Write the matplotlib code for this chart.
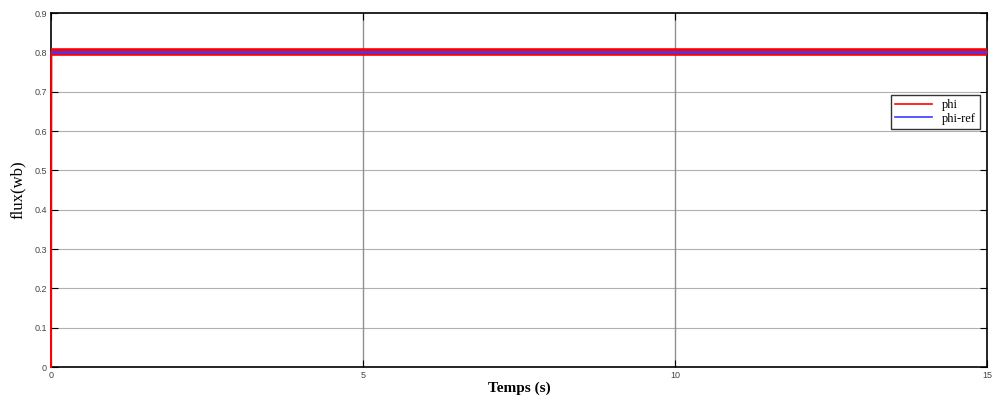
import matplotlib
matplotlib.use('Agg')
import matplotlib.pyplot as plt

# donnees
temps = [0, 0.005, 15]
phi = [0, 0.8, 0.8]
phi_ref = [0.8, 0.8, 0.8]
yticks = [0, 0.1, 0.2, 0.3, 0.4, 0.5, 0.6, 0.7, 0.8, 0.9]
xticks = [0, 5, 10, 15]

fig = plt.figure(figsize=(9.93, 3.99), dpi=100)
ax = fig.add_axes([0.0514, 0.0802, 0.9426, 0.8872])

ax.plot(temps, phi, color='red', linewidth=1.5, label='phi', zorder=3, clip_on=False)
# regime etabli : petite oscillation autour de 0.8, d'ou le trait epais
ax.plot(temps[1:], phi[1:], color='red', linewidth=5.5, solid_capstyle='butt', zorder=3)
ax.plot(temps, phi_ref, color='#3b3bff', linewidth=1.8, label='phi-ref', zorder=3)

ax.set_xlim(0, 15)
ax.set_ylim(0, 0.9)
ax.set_xticks(xticks)
ax.set_yticks(yticks)
ax.set_xticklabels([str(x) for x in xticks])
ax.set_yticklabels(['0'] + [str(y) for y in yticks[1:]])
ax.tick_params(direction='in', top=True, right=True, length=5, width=0.8,
               labelsize=6.5, colors='black', labelcolor='#444444', pad=3)
for lab in ax.get_xticklabels() + ax.get_yticklabels():
    lab.set_family('Liberation Sans')

for y in yticks[1:-1]:
    ax.axhline(y, color='#b0b0b0', linewidth=0.8, zorder=0)
for x in xticks[1:-1]:
    ax.axvline(x, color='#909090', linewidth=1.0, zorder=0)

for s in ax.spines.values():
    s.set_linewidth(1.2)

ax.set_xlabel('Temps (s)', family='Liberation Serif', fontsize=11,
              fontweight='bold', labelpad=1)
ax.set_ylabel('flux(wb)', family='Liberation Serif', fontsize=12, labelpad=6)

leg = ax.legend(loc='upper right', bbox_to_anchor=(0.9925, 0.768),
                prop={'family': 'Liberation Serif', 'size': 9}, frameon=True,
                fancybox=False, edgecolor='black', borderpad=0.3,
                labelspacing=0.15, handlelength=3.0, borderaxespad=0)
leg.get_frame().set_linewidth(1.0)
for h in leg.get_lines():
    h.set_linewidth(1.2)

fig.savefig('out.png', dpi=100)
